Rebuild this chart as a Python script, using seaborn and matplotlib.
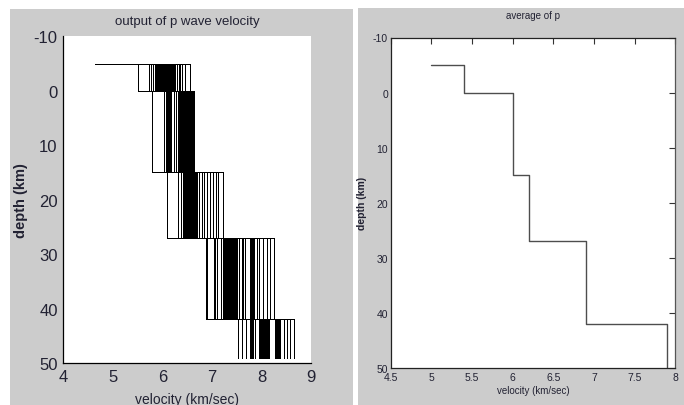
import matplotlib
matplotlib.use("Agg")
import matplotlib.pyplot as plt
from matplotlib.patches import Rectangle
import numpy as np
import pandas as pd
import seaborn as sns

# ---------------- data ----------------
layer_tops = [-5, 0, 15, 27, 42]
bottom_left = 49
bottom_right = 50
start_v_left = 4.63
start_v_right = 5.0

layer1_v = [5.51, 5.73, 5.76, 5.80, 5.84, 5.86, 5.88, 5.90, 5.92, 5.95,
            5.96, 5.97, 5.98, 6.00, 6.01, 6.02, 6.04, 6.05, 6.06, 6.08,
            6.09, 6.10, 6.12, 6.13, 6.14, 6.16, 6.17, 6.18, 6.20, 6.21,
            6.22, 6.24, 6.25, 6.29, 6.30, 6.33, 6.36, 6.40, 6.45, 6.55]
layer2_v = [5.79, 6.04, 6.07, 6.10, 6.11, 6.12, 6.13, 6.15, 6.18, 6.23,
            6.27, 6.32, 6.33, 6.34, 6.36, 6.37, 6.38, 6.39, 6.40, 6.41,
            6.42, 6.43, 6.44, 6.45, 6.46, 6.47, 6.48, 6.49, 6.50, 6.51,
            6.52, 6.53, 6.54, 6.55, 6.56, 6.57, 6.58, 6.59, 6.61, 6.64]
layer3_v = [6.10, 6.32, 6.37, 6.41, 6.43, 6.44, 6.45, 6.46, 6.47, 6.48,
            6.49, 6.50, 6.51, 6.52, 6.53, 6.54, 6.55, 6.56, 6.57, 6.58,
            6.59, 6.60, 6.61, 6.62, 6.63, 6.64, 6.65, 6.66, 6.67, 6.68,
            6.70, 6.74, 6.79, 6.84, 6.89, 6.96, 7.02, 7.07, 7.12, 7.21]
layer4_v = [6.88, 6.90, 7.04, 7.06, 7.09, 7.18, 7.21, 7.22, 7.23, 7.25,
            7.27, 7.29, 7.30, 7.31, 7.33, 7.35, 7.37, 7.39, 7.40, 7.41,
            7.43, 7.45, 7.47, 7.48, 7.51, 7.55, 7.60, 7.63, 7.66, 7.76,
            7.78, 7.80, 7.82, 7.85, 7.90, 7.95, 8.02, 8.10, 8.17, 8.25]
layer5_v = [7.53, 7.60, 7.68, 7.76, 7.78, 7.80, 7.82, 7.87, 7.95, 7.96,
            7.97, 7.98, 7.99, 8.00, 8.01, 8.02, 8.03, 8.04, 8.05, 8.06,
            8.07, 8.08, 8.09, 8.10, 8.11, 8.12, 8.13, 8.14, 8.15, 8.27,
            8.28, 8.29, 8.31, 8.33, 8.35, 8.37, 8.44, 8.50, 8.57, 8.65]

average_v = [5.4, 6.0, 6.2, 6.9, 7.9]

left_xticks = [4, 5, 6, 7, 8, 9]
left_yticks = [-10, 0, 10, 20, 30, 40, 50]
right_xticks = [4.5, 5, 5.5, 6, 6.5, 7, 7.5, 8]
right_xticklabels = ["4.5", "5", "5.5", "6", "6.5", "7", "7.5", "8"]
right_yticks = [-10, 0, 10, 20, 30, 40, 50]


def staircase(start_v, vels, tops, bottom):
    xs = [start_v]
    ys = [tops[0]]
    bounds = list(tops[1:]) + [bottom]
    for v, top, bot in zip(vels, tops, bounds):
        xs += [v, v]
        ys += [top, bot]
    return xs, ys


rows = []
layers = [layer1_v, layer2_v, layer3_v, layer4_v, layer5_v]
for m in range(len(layer1_v)):
    vels = [lay[m] for lay in layers]
    xs, ys = staircase(start_v_left, vels, layer_tops, bottom_left)
    for i, (x, y) in enumerate(zip(xs, ys)):
        rows.append({"model": m, "order": i, "velocity": x, "depth": y})
df_models = pd.DataFrame(rows)

xs, ys = staircase(start_v_right, average_v, layer_tops, bottom_right)
df_avg = pd.DataFrame({"model": 0, "order": range(len(xs)), "velocity": xs, "depth": ys})

# ---------------- style ----------------
sns.set_theme(style="white")
plt.rcParams["font.family"] = ["Liberation Sans", "DejaVu Sans"]
plt.rcParams["axes.unicode_minus"] = False
txt = "#222233"

fig = plt.figure(figsize=(6.84, 4.06), dpi=100, facecolor="white")
W, H = 684.0, 406.0
fig.patches.append(Rectangle((10 / W, 0), 343 / W, 396 / H, transform=fig.transFigure,
                             facecolor="#cccccc", edgecolor="none", zorder=-5))
fig.patches.append(Rectangle((358 / W, 0), 326 / W, 397 / H, transform=fig.transFigure,
                             facecolor="#cccccc", edgecolor="none", zorder=-5))

# left axes
axL = fig.add_axes([63.3 / W, 1 - 364 / H, 248 / W, 326.7 / H])
axL.set_facecolor("white")
sns.lineplot(data=df_models, x="velocity", y="depth", units="model", estimator=None,
             sort=False, color="black", lw=0.5, antialiased=False, ax=axL, legend=False)
axL.set_xlim(4, 9)
axL.set_ylim(50, -10)
axL.set_xticks(left_xticks)
axL.set_yticks(left_yticks)
axL.tick_params(direction="in", length=3, width=0.8, colors="black",
                labelcolor=txt, labelsize=12, pad=4)
for s in ["top", "right"]:
    axL.spines[s].set_visible(False)
for s in ["left", "bottom"]:
    axL.spines[s].set_color("black")
    axL.spines[s].set_linewidth(0.9)
axL.set_title("output of p wave velocity", fontsize=9.5, color=txt, pad=9)
axL.set_xlabel("velocity (km/sec)", fontsize=10, color=txt, labelpad=6)
axL.set_ylabel("depth (km)", fontsize=10.5, color=txt, fontweight="bold", labelpad=4)

# right axes
axR = fig.add_axes([390.7 / W, 1 - 369.3 / H, 284.6 / W, 330.8 / H])
axR.set_facecolor("white")
sns.lineplot(data=df_avg, x="velocity", y="depth", units="model", estimator=None,
             sort=False, color="#4d4d4d", lw=1.0, ax=axR, legend=False)
axR.set_xlim(4.5, 8)
axR.set_ylim(50, -10)
axR.set_xticks(right_xticks)
axR.set_xticklabels(right_xticklabels)
axR.set_yticks(right_yticks)
axR.tick_params(direction="in", length=4, width=0.8, colors="#333333",
                labelcolor=txt, labelsize=7.5, pad=2, top=True, right=True)
axR.tick_params(axis="x", pad=3)
for s in axR.spines.values():
    s.set_color("#222222")
    s.set_linewidth(0.9)
axR.spines["right"].set_color("#555555")
axR.set_title("average of p", fontsize=7, color=txt, pad=14)
axR.set_xlabel("velocity (km/sec)", fontsize=7, color=txt, labelpad=2)
axR.set_ylabel("depth (km)", fontsize=7.5, color=txt, fontweight="bold", labelpad=4)

fig.savefig("out.png", dpi=100, facecolor=fig.get_facecolor())
